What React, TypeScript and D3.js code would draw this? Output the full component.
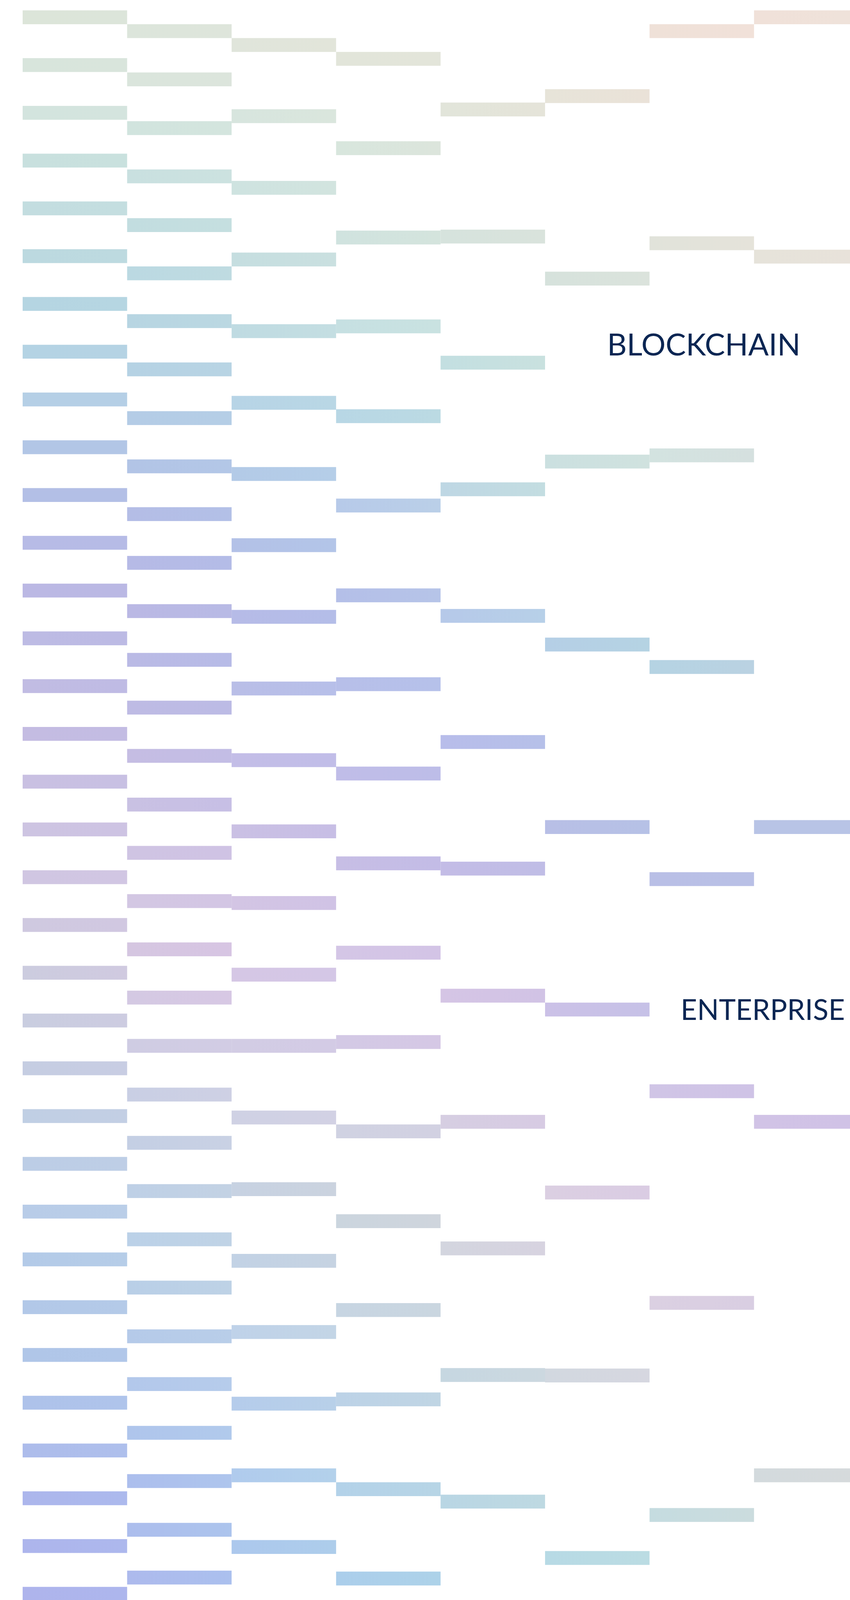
import React from 'react';
import * as d3 from 'd3';

// bar tops per round, in units of the first round's row spacing
const round0 = [0, 1, 2, 3, 4, 5, 6, 7, 8, 9, 10, 11, 12, 13, 14, 15, 16, 17, 18, 19, 20, 21, 22, 23, 24, 25, 26, 27, 28, 29, 30, 31, 32, 33, 34, 35, 36, 37, 38];
const round1 = [0.29, 1.3, 2.32, 3.33, 4.35, 5.36, 6.36, 7.37, 8.39, 9.4, 10.4, 11.42, 12.43, 13.45, 14.45, 15.46, 16.48, 17.49, 18.5, 19.51, 20.52, 21.53, 22.55, 23.56, 24.57, 25.58, 26.59, 27.61, 28.61, 29.63, 30.64, 31.66, 32.66, 33.68, 34.68, 35.7, 36.72, 37.72];
const round2 = [0.58, 2.07, 3.57, 5.07, 6.57, 8.07, 9.56, 11.05, 12.55, 14.05, 15.55, 17.04, 18.54, 20.04, 21.53, 23.03, 24.53, 26.03, 27.52, 29.02, 30.52, 32.02, 33.51, 35.02, 36.51, 38.01];
const round3 = [0.87, 2.74, 4.61, 6.47, 8.35, 10.22, 12.1, 13.96, 15.83, 17.71, 19.58, 21.45, 23.32, 25.2, 27.06, 28.93, 30.81, 32.68, 34.55, 36.42, 38.29];
const round4 = [1.93, 4.59, 7.23, 9.88, 12.53, 15.17, 17.82, 20.48, 23.12, 25.77, 28.42, 31.07, 33.72, 36.37, 37.72];
const round5 = [1.65, 5.47, 9.3, 13.13, 16.95, 20.77, 24.6, 28.43, 32.25, 36.06];
const round6 = [0.29, 4.73, 9.17, 13.6, 18.04, 22.48, 26.91, 31.35, 35.79];
const round7 = [0, 5.01, 16.95, 23.12, 30.52, 36.07];

const rounds = [round0, round1, round2, round3, round4, round5, round6, round7];
const roundNames = ['r0', 'r1', 'r2', 'r3', 'r4', 'r5', 'r6', 'r7'];

const labels = ['BLOCKCHAIN', 'ENTERPRISE'];

// colour stops along each column: [row, colour]
const palette0: [number, string][] = [
  [0, '#dce5d9'], [2, '#d3e4de'], [3, '#c8e0de'], [4, '#c3dde0'], [5, '#bcd9e0'], [6, '#b5d5e2'],
  [7, '#b4d3e4'], [8, '#b5cfe6'], [9, '#b2c6e6'], [10, '#b3bfe6'], [11, '#b7bbe6'], [12, '#bbb8e4'],
  [13, '#bdbbe4'], [15, '#c4bce2'], [17, '#cdc4e2'], [18, '#d0c6e2'], [19, '#cfc9e0'], [20, '#ccccdf'],
  [22, '#c5cde2'], [23, '#c0cfe4'], [25, '#b8cce8'], [26, '#b3cae8'], [28, '#b0c6e8'], [29, '#aec2ea'],
  [31, '#acb6ec'], [33, '#aeb4ec'], [35, '#aeaeec'], [37, '#adacee'], [38, '#b2a8ec'],
];
const palette1: [number, string][] = [
  [0.3, '#dde5dc'], [1.3, '#dbe5dc'], [2.3, '#d2e4de'], [3.3, '#cae1e0'], [4.35, '#c2dee0'], [5.36, '#bcdae2'],
  [6.36, '#b8d6e2'], [7.37, '#b6d2e4'], [8.39, '#b4cce6'], [9.4, '#b2c4e6'], [10.4, '#b3bde6'], [11.42, '#b4bae6'],
  [12.43, '#b9b8e4'], [13.45, '#b8bae6'], [14.45, '#bcbae4'], [15.46, '#c4bde4'], [16.48, '#c8c0e4'], [17.49, '#d0c4e4'],
  [18.5, '#d4c6e4'], [19.51, '#d8c4e2'], [20.52, '#d8c8e4'], [21.53, '#d2cce4'], [22.55, '#ccd0e4'], [23.56, '#c6d0e4'],
  [24.57, '#c0d2e6'], [25.58, '#bed4e8'], [26.59, '#bcd2e6'], [27.61, '#b6ccea'], [28.61, '#b4caec'], [29.63, '#b0c8ec'],
  [30.64, '#acc0ee'], [31.66, '#acc0ee'], [32.66, '#acbcee'], [33.68, '#aab8ee'], [34.68, '#aab6ee'], [35.7, '#a8b0ee'],
  [36.72, '#a8acee'], [37.72, '#acaaee'],
];
const palette2: [number, string][] = [
  [0.58, '#e1e5da'], [2.07, '#d8e6de'], [3.57, '#d0e4e0'], [5.07, '#c8dfe0'], [6.57, '#c2dde2'], [8.07, '#b8d6e6'],
  [9.56, '#b4cde8'], [11.05, '#b2c4e8'], [12.55, '#b4bce8'], [14.05, '#b8bfe8'], [15.55, '#c2bde8'], [17.04, '#c9bfe4'],
  [18.54, '#d2c5e4'], [20.04, '#d4c8e6'], [21.53, '#d2cce4'], [23.03, '#d2d2e4'], [24.53, '#cad2e0'], [26.03, '#c4d2e4'],
  [27.52, '#c2d4e8'], [29.02, '#b6ceea'], [30.52, '#b2d0ec'], [32.02, '#acccec'], [33.51, '#a8c4ee'], [35.02, '#a4c0ee'],
  [36.51, '#a0b6ee'], [38.01, '#a0b4ee'],
];
const palette3: [number, string][] = [
  [0.87, '#e3e5da'], [2.74, '#dae6dc'], [4.61, '#d2e4de'], [6.47, '#c8e2e2'], [8.35, '#b8d8e4'], [10.22, '#b8cbea'],
  [12.1, '#b4bfe8'], [13.96, '#b6bfea'], [15.83, '#bfbde8'], [17.71, '#c4bce6'], [19.58, '#d4c6e6'], [21.45, '#d4c8e6'],
  [23.32, '#d0d2e2'], [25.2, '#ccd6dc'], [27.06, '#c8d6e0'], [28.93, '#bed4e6'], [30.81, '#b4d4e8'], [32.68, '#acd0ea'],
  [34.55, '#a6c8ee'], [36.42, '#a0c0ee'], [38.29, '#a0b8ee'],
];
const palette4: [number, string][] = [
  [1.93, '#e4e5da'], [4.59, '#d7e3dc'], [7.23, '#c4e0e0'], [9.88, '#c0dce2'], [12.53, '#b7ceea'], [15.17, '#b6bdea'],
  [17.82, '#c2bbe6'], [20.48, '#d6c4e4'], [23.12, '#d8cce2'], [25.77, '#d6d4e0'], [28.42, '#c8d8e0'], [31.07, '#bcd8e2'],
  [33.72, '#a8d4ea'], [36.37, '#a4c4ea'], [37.72, '#a0c8f0'],
];
const palette5: [number, string][] = [
  [1.65, '#e8e3d8'], [5.47, '#d8e2dc'], [9.3, '#cfe1df'], [13.13, '#b4d1e4'], [16.95, '#b6c0e6'], [20.77, '#c6c0e8'],
  [24.6, '#dccee2'], [28.43, '#d6d8e0'], [32.25, '#b8dce4'], [36.06, '#a4d0ea'],
];
const palette6: [number, string][] = [
  [0.29, '#f2e0d8'], [4.73, '#e3e4da'], [9.17, '#d4e4e0'], [13.6, '#b5d5e2'], [18.04, '#b8bee6'], [22.48, '#d0c4e6'],
  [26.91, '#dccee2'], [31.35, '#c8dcde'], [35.79, '#acd8e6'],
];
const palette7: [number, string][] = [
  [0, '#efe2da'], [5.01, '#e8e2da'], [16.95, '#b8c4e6'], [23.12, '#d0c2e6'], [30.52, '#d6dadc'], [36.07, '#bae0e4'],
];
const palettes = [palette0, palette1, palette2, palette3, palette4, palette5, palette6, palette7];

const WIDTH = 2177;
const HEIGHT = 4769;
const LEFT = 58;
const COL_W = 267.6;
const ROW_TOP = 26.5;
const ROW_STEP = 122.3;
const BAR_H = 35.5;
const INK = '#0b2653';

export default function App() {
  const x = d3.scaleBand<string>()
    .domain(roundNames)
    .range([LEFT, LEFT + COL_W * roundNames.length])
    .padding(0);

  const y = d3.scaleLinear().domain([0, 38]).range([ROW_TOP, ROW_TOP + 38 * ROW_STEP]);

  const colour = palettes.map(p =>
    d3.scaleLinear<string>()
      .domain(p.map(d => d[0]))
      .range(p.map(d => d[1]))
      .interpolate(d3.interpolateLab)
      .clamp(true)
  );

  const bars = rounds.flatMap((tops, c) =>
    tops.map((v, i) => {
      const own = colour[c](v);
      const prev = colour[Math.max(0, c - 1)](v);
      const next = colour[Math.min(palettes.length - 1, c + 1)](v);
      return {
        id: `g${c}-${i}`,
        x: x(roundNames[c]) as number,
        y: y(v),
        left: d3.interpolateLab(own, prev)(0.3),
        right: d3.interpolateLab(own, next)(0.3),
      };
    })
  );

  return (
    <svg
      width={WIDTH}
      height={HEIGHT}
      viewBox={`0 0 ${WIDTH} ${HEIGHT}`}
      style={{ position: 'absolute', left: 0, top: 0, display: 'block', background: '#ffffff' }}
    >
      <defs>
        {bars.map(b => (
          <linearGradient key={b.id} id={b.id} x1="0" x2="1" y1="0" y2="0">
            <stop offset="0%" stopColor={b.left} />
            <stop offset="100%" stopColor={b.right} />
          </linearGradient>
        ))}
      </defs>
      <rect x={0} y={0} width={WIDTH} height={HEIGHT} fill="#ffffff" />
      <g>
        {bars.map(b => (
          <rect key={b.id} x={b.x} y={b.y} width={x.bandwidth()} height={BAR_H} fill={`url(#${b.id})`} />
        ))}
      </g>
      <g fontFamily="Lato, 'Open Sans', sans-serif" fill={INK}>
        <text x={1555} y={910} fontSize={77} textLength={495} lengthAdjust="spacingAndGlyphs">{labels[0]}</text>
        <text x={2164} y={2611} fontSize={73} textAnchor="end">{labels[1]}</text>
      </g>
    </svg>
  );
}
